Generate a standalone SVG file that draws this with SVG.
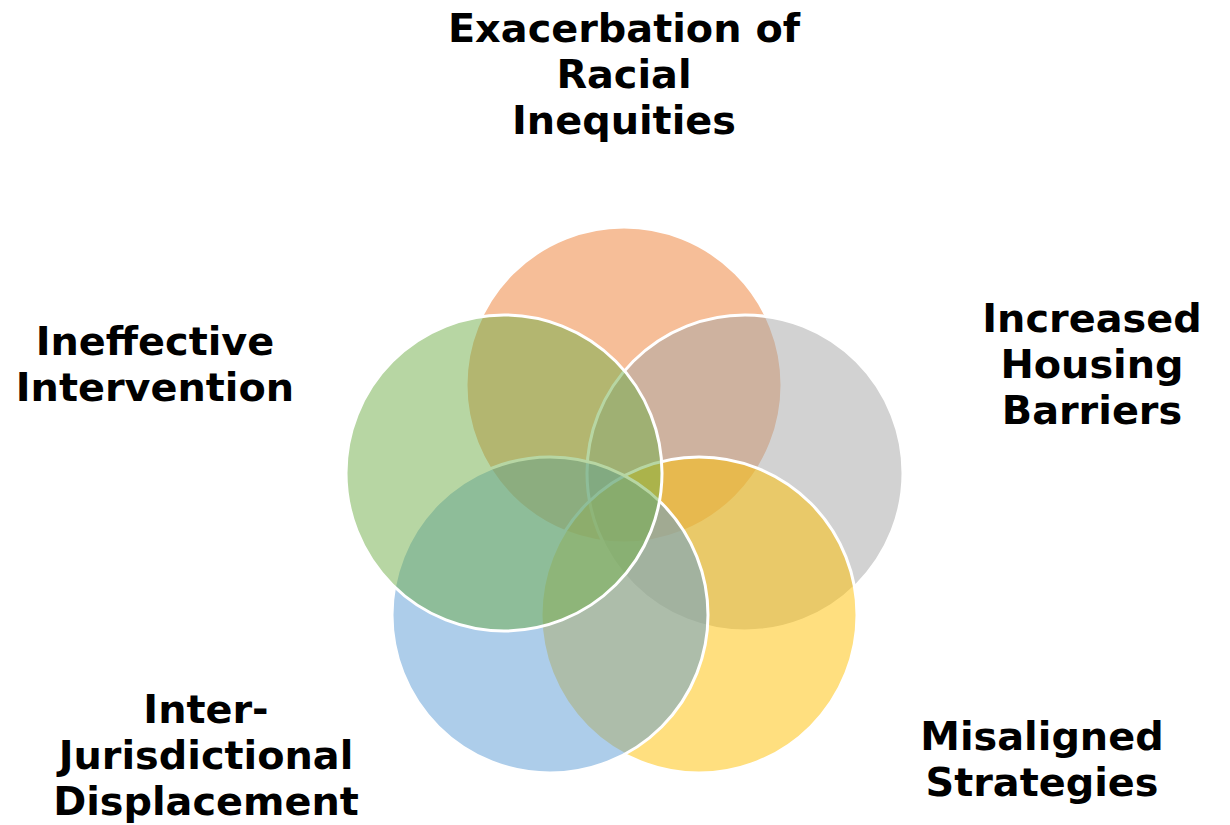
<svg xmlns="http://www.w3.org/2000/svg" width="1230" height="825" viewBox="0 0 1230 825">
<style>
.c{stroke:#FFFFFF;stroke-width:3;fill-opacity:0.5}
.t{font-family:"DejaVu Sans",sans-serif;font-weight:bold;font-size:39.8px;fill:#000000;text-anchor:middle}
</style>
<rect width="1230" height="825" fill="#FFFFFF"/>
<g id="node-orange"><circle class="c" cx="624" cy="385" r="158" fill="#ED7D31"/></g>
<g id="node-gray"><circle class="c" cx="745" cy="473" r="158" fill="#A5A5A5"/></g>
<g id="node-yellow"><circle class="c" cx="699" cy="615" r="158" fill="#FFC000"/></g>
<g id="node-blue"><circle class="c" cx="550" cy="615" r="158" fill="#5B9BD5"/></g>
<g id="node-green"><circle class="c" cx="504" cy="473" r="158" fill="#70AD47"/></g>
<g id="connectors"></g>
<g id="label-racial"><text class="t" x="624" y="42">Exacerbation of</text><text class="t" x="624" y="88">Racial</text><text class="t" x="624" y="134">Inequities</text></g>
<g id="label-housing"><text class="t" x="1092" y="332">Increased</text><text class="t" x="1092" y="378">Housing</text><text class="t" x="1092" y="424">Barriers</text></g>
<g id="label-strategies"><text class="t" x="1042" y="750">Misaligned</text><text class="t" x="1042" y="796">Strategies</text></g>
<g id="label-displacement"><text class="t" x="206" y="723">Inter-</text><text class="t" x="206" y="769">Jurisdictional</text><text class="t" x="206" y="815">Displacement</text></g>
<g id="label-intervention"><text class="t" x="155" y="355">Ineffective</text><text class="t" x="155" y="401">Intervention</text></g>
</svg>
